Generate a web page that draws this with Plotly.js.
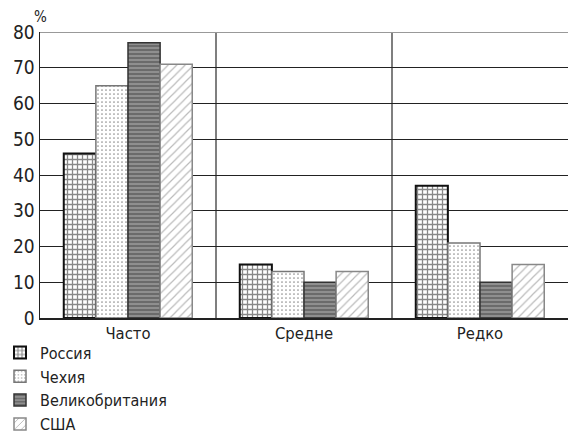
<!DOCTYPE html>
<html><head><meta charset="utf-8">
<script src="https://cdn.plot.ly/plotly-3.0.1.min.js"></script>
<style>html,body{margin:0;padding:0;background:#fff}#c{width:568px;height:437px}
svg text{font-stretch:condensed !important;}</style>
</head><body><div id="c"></div>
<script>
const categories = ["Часто", "Средне", "Редко"];
const seriesNames = ["Россия", "Чехия", "Великобритания", "США"];
const russia = [46, 15, 37];
const czech = [65, 13, 21];
const uk = [77, 10, 10];
const usa = [71, 13, 15];
const yTicks = [0, 10, 20, 30, 40, 50, 60, 70, 80];

const FONT = '"Liberation Sans Narrow", "DejaVu Sans", sans-serif';
const styles = [
  {bg: '#ffffff', fg: '#111111', shape: '+', size: 5, sol: 0.45, line: '#111'},
  {bg: '#ffffff', fg: '#222222', shape: '.', size: 4, sol: 0.15, line: '#777'},
  {bg: '#8f8f8f', fg: '#333333', shape: '-', size: 4, sol: 0.4, line: '#333'},
  {bg: '#ffffff', fg: '#777777', shape: '/', size: 6, sol: 0.2, line: '#888'}
];
const values = [russia, czech, uk, usa];
const traces = values.map((v, i) => ({
  type: 'bar', x: categories, y: v, name: seriesNames[i],
  marker: {
    color: styles[i].bg,
    line: {color: styles[i].line, width: i === 0 ? 2 : 1.5},
    pattern: {shape: styles[i].shape, fgcolor: styles[i].fg, bgcolor: styles[i].bg,
              size: styles[i].size, solidity: styles[i].sol, fillmode: 'overlay'}
  }
}));

const layout = {
  width: 568, height: 437,
  margin: {l: 40, r: 0, t: 32, b: 119, autoexpand: false},
  paper_bgcolor: '#fff', plot_bgcolor: '#fff',
  font: {family: FONT, size: 16, color: '#222'},
  barmode: 'group', bargap: 0.27, bargroupgap: 0,
  showlegend: true,
  legend: {xref: 'container', yref: 'container', x: 0, y: 0.232, xanchor: 'left', yanchor: 'top',
           font: {family: FONT, size: 16, color: '#222'}, tracegroupgap: 0, itemwidth: 30,
           bgcolor: 'rgba(0,0,0,0)'},
  xaxis: {type: 'category', showgrid: false, ticks: '', showline: true, linecolor: '#222', linewidth: 1.5,
          tickfont: {family: FONT, size: 16.5}, range: [-0.5, 2.5], fixedrange: true},
  yaxis: {range: [0, 80], tickvals: yTicks, showgrid: true, gridcolor: '#222', gridwidth: 1,
          showline: true, linecolor: '#222', linewidth: 1.5, ticks: '', zeroline: false,
          tickfont: {family: FONT, size: 19}, ticklen: 0},
  shapes: [
    {type: 'line', xref: 'x', yref: 'paper', x0: 0.5, x1: 0.5, y0: 0, y1: 1, line: {color: '#555', width: 1.5}, layer: 'below'},
    {type: 'line', xref: 'x', yref: 'paper', x0: 1.5, x1: 1.5, y0: 0, y1: 1, line: {color: '#555', width: 1.5}, layer: 'below'},
    {type: 'line', xref: 'paper', yref: 'y', x0: 0, x1: 1, y0: 80, y1: 80, line: {color: '#999', width: 2}, layer: 'below'}
  ],
  annotations: [
    {text: '%', xref: 'paper', yref: 'paper', x: 0, y: 1, xanchor: 'center', yanchor: 'bottom', yshift: 4,
     showarrow: false, font: {family: FONT, size: 15, color: '#222'}}
  ]
};
Plotly.newPlot('c', traces, layout, {staticPlot: true, displayModeBar: false});
</script></body></html>
